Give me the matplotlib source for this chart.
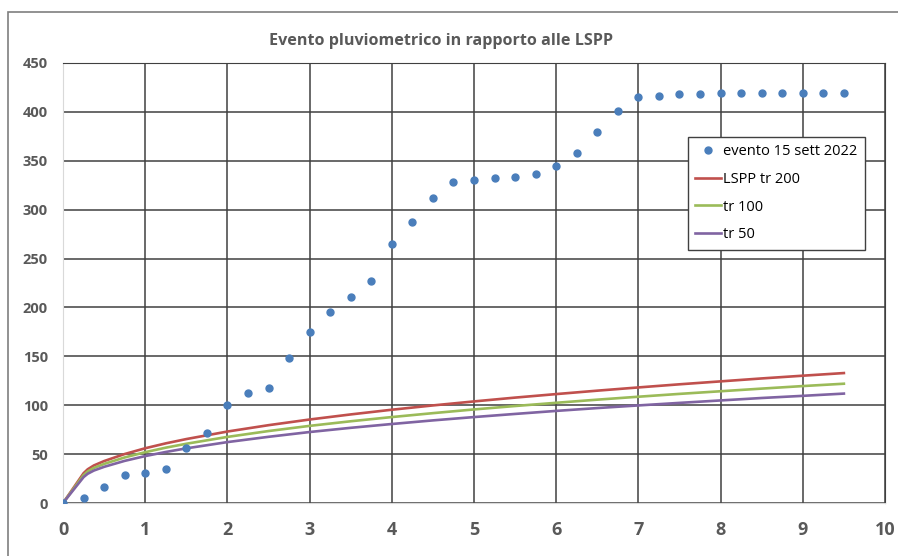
import matplotlib.pyplot as plt
from matplotlib.patches import Rectangle

# event data: cumulated rainfall (mm) every 15 min (hours)
event_t = [0, 0.25, 0.5, 0.75, 1.0, 1.25, 1.5, 1.75, 2.0, 2.25, 2.5, 2.75, 3.0,
           3.25, 3.5, 3.75, 4.0, 4.25, 4.5, 4.75, 5.0, 5.25, 5.5, 5.75, 6.0,
           6.25, 6.5, 6.75, 7.0, 7.25, 7.5, 7.75, 8.0, 8.25, 8.5, 8.75, 9.0,
           9.25, 9.5]
event_h = [0, 5, 16, 29, 31, 35, 56, 72, 100, 112, 118, 148, 175,
           195, 211, 227, 265, 287, 312, 328, 330, 332, 333, 336, 345,
           358, 379, 401, 415, 416, 418, 418, 419, 419, 419, 419, 419,
           419, 419]

# LSPP curves
lspp_t = [0, 0.25, 0.3, 0.375, 0.5, 0.75, 1, 1.25, 1.5, 2, 2.5, 3, 3.5, 4, 4.5,
          5, 5.5, 6, 6.5, 7, 7.5, 8, 8.5, 9, 9.5]
tr200 = [0, 30.5, 34.5, 38.4, 42.9, 50.1, 56.0, 61.0, 65.4, 73.1, 79.6, 85.4, 90.6,
         95.4, 99.8, 103.9, 107.8, 111.4, 114.9, 118.2, 121.4, 124.4, 127.4,
         130.2, 132.9]
tr100 = [0, 28.6, 32.3, 35.9, 40.0, 46.6, 52.0, 56.6, 60.6, 67.6, 73.6, 78.9, 83.6,
         87.9, 91.9, 95.7, 99.2, 102.5, 105.7, 108.7, 111.6, 114.3, 117.0,
         119.6, 122.0]
tr50 = [0, 26.5, 29.9, 33.2, 37.0, 43.1, 48.0, 52.2, 55.9, 62.3, 67.7, 72.6, 76.9,
        80.8, 84.5, 87.9, 91.1, 94.2, 97.1, 99.8, 102.4, 104.9, 107.4,
        109.6, 111.9]

x_ticks = list(range(0, 11))
y_ticks = list(range(0, 451, 50))

plt.rcParams['font.family'] = ['Open Sans', 'DejaVu Sans']
grey = '#595959'

fig = plt.figure(figsize=(8.98, 5.56), dpi=100)
ax = fig.add_axes([0.0702, 0.0953, 0.9153, 0.7914])

# outer chart frame (cropped on right and bottom)
fig.patches.append(Rectangle((8 / 898, -0.1), 1.2, 1.1 - 12 / 556,
                             transform=fig.transFigure, fill=False,
                             edgecolor='#7f7f7f', linewidth=1.2))

ax.plot(event_t, event_h, 'o', color='#4a7ebb', markersize=5,
        label='evento 15 sett 2022', zorder=4)
ax.plot(lspp_t, tr200, color='#c0504d', linewidth=1.9, label='LSPP tr 200', zorder=3)
ax.plot(lspp_t, tr100, color='#9bbb59', linewidth=1.9, label='tr 100', zorder=3)
ax.plot(lspp_t, tr50, color='#8064a2', linewidth=1.9, label='tr 50', zorder=3)

ax.set_xlim(0, 10)
ax.set_ylim(0, 450)
ax.set_xticks(x_ticks)
ax.set_yticks(y_ticks)
ax.grid(True, color='#404040', linewidth=1.1)
ax.set_axisbelow(True)
ax.tick_params(length=0, colors=grey)
ax.tick_params(axis='y', labelsize=10.5, pad=11)
ax.tick_params(axis='x', labelsize=13, pad=13)
for lab in ax.get_xticklabels() + ax.get_yticklabels():
    lab.set_fontweight('bold')
for side in ['left', 'bottom']:
    ax.spines[side].set_color('#d9d9d9')
for side in ['top', 'right']:
    ax.spines[side].set_color('#404040')

fig.text(0.491, 0.926, 'Evento pluviometrico in rapporto alle LSPP',
         ha='center', va='center', fontsize=11.6, fontweight='bold', color=grey)

leg = ax.legend(loc='upper left', bbox_to_anchor=(0.760, 0.832), fancybox=False,
                edgecolor='#404040', framealpha=1, fontsize=10.5,
                handlelength=1.8, handletextpad=0.15, borderaxespad=0,
                labelspacing=0.87, borderpad=0.5)
leg.get_frame().set_linewidth(1.0)

fig.savefig('out.png', dpi=100)
